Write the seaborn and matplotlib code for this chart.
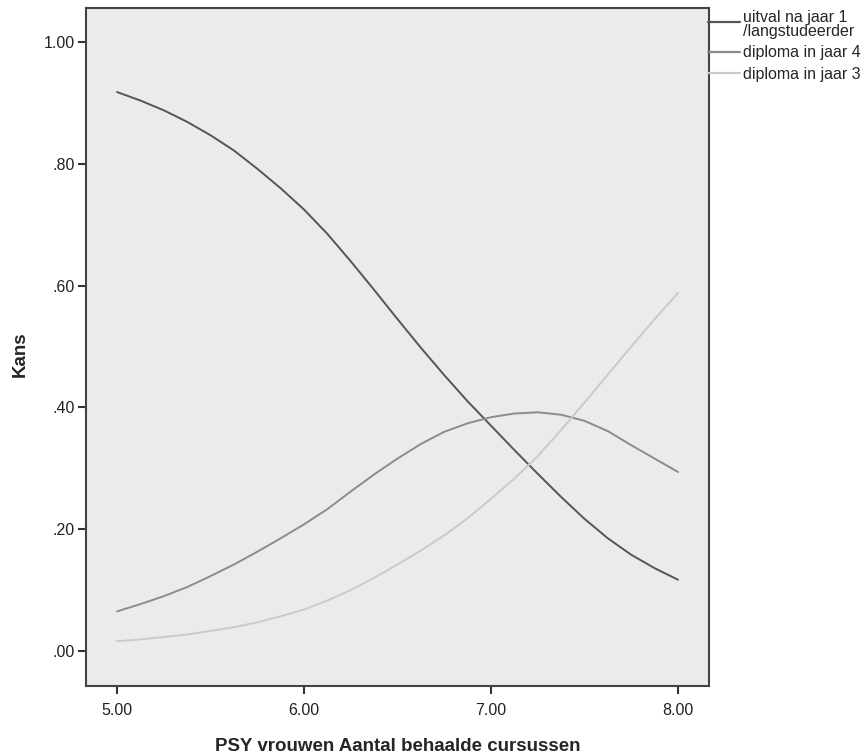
import numpy as np
import pandas as pd
import matplotlib
matplotlib.use("Agg")
import matplotlib.pyplot as plt
from matplotlib.legend_handler import HandlerLine2D
import seaborn as sns

x_vals = [5.0, 5.125, 5.25, 5.375, 5.5, 5.625, 5.75, 5.875, 6.0, 6.125, 6.25, 6.375, 6.5,
          6.625, 6.75, 6.875, 7.0, 7.125, 7.25, 7.375, 7.5, 7.625, 7.75, 7.875, 8.0]
uitval = [0.918, 0.904, 0.888, 0.869, 0.847, 0.822, 0.792, 0.760, 0.725, 0.685, 0.640, 0.593, 0.545,
          0.498, 0.453, 0.410, 0.370, 0.330, 0.291, 0.253, 0.217, 0.185, 0.158, 0.136, 0.117]
diploma4 = [0.065, 0.077, 0.090, 0.105, 0.123, 0.142, 0.163, 0.185, 0.208, 0.233, 0.262, 0.290, 0.316,
            0.340, 0.360, 0.374, 0.384, 0.390, 0.392, 0.388, 0.378, 0.361, 0.338, 0.316, 0.294]
diploma3 = [0.016, 0.019, 0.023, 0.027, 0.033, 0.039, 0.047, 0.057, 0.068, 0.083, 0.100, 0.120, 0.142,
            0.165, 0.190, 0.218, 0.250, 0.283, 0.320, 0.363, 0.408, 0.454, 0.500, 0.545, 0.588]
labels = ["uitval na jaar 1\n/langstudeerder", "diploma in jaar 4", "diploma in jaar 3"]
y_ticks = [0.0, 0.2, 0.4, 0.6, 0.8, 1.0]
y_ticklabels = [".00", ".20", ".40", ".60", ".80", "1.00"]
x_ticks = [5.0, 6.0, 7.0, 8.0]
x_ticklabels = ["5.00", "6.00", "7.00", "8.00"]

df = pd.DataFrame({
    "x": x_vals * 3,
    "y": uitval + diploma4 + diploma3,
    "serie": [labels[0]] * len(x_vals) + [labels[1]] * len(x_vals) + [labels[2]] * len(x_vals),
})

sns.set_style("white")
plt.rcParams["font.family"] = ["Liberation Sans", "DejaVu Sans"]

fig = plt.figure(figsize=(8.67, 7.55), dpi=100)
ax = fig.add_axes([0.0992, 0.0914, 0.7186, 0.898])
ax.set_facecolor("#ebebeb")

palette = {labels[0]: "#555555", labels[1]: "#8c8c8c", labels[2]: "#cacaca"}
sns.lineplot(data=df, x="x", y="y", hue="serie", palette=palette, linewidth=1.4, ax=ax,
             hue_order=labels)

ax.set_xlim(4.834, 8.166)
ax.set_ylim(-0.0575, 1.056)
ax.set_xticks(x_ticks)
ax.set_xticklabels(x_ticklabels)
ax.set_yticks(y_ticks)
ax.set_yticklabels(y_ticklabels)
ax.tick_params(axis="both", direction="out", length=6, width=1.5, color="#333333",
               labelsize=11.5, labelcolor="#222222", bottom=True, left=True)
ax.tick_params(axis="y", pad=2)
ax.tick_params(axis="x", pad=6)
for s in ax.spines.values():
    s.set_color("#444444")
    s.set_linewidth(1.5)

ax.set_xlabel("PSY vrouwen Aantal behaalde cursussen", fontsize=13.5, fontweight="bold")
ax.set_ylabel("Kans", fontsize=13.5, fontweight="bold")
ax.xaxis.set_label_coords(0.5, -0.077)
ax.yaxis.set_label_coords(-0.092, 0.49)


class TopAlignedHandler(HandlerLine2D):
    def __init__(self, shift=0.0, **kw):
        super().__init__(**kw)
        self.shift = shift

    def create_artists(self, legend, orig_handle, xdescent, ydescent, width, height, fontsize, trans):
        arts = super().create_artists(legend, orig_handle, xdescent, ydescent, width, height, fontsize, trans)
        for a in arts:
            yd = np.asarray(a.get_ydata(), float)
            a.set_ydata(yd + height * self.shift)
        return arts


handles, hl = ax.get_legend_handles_labels()
leg = ax.legend(handles, hl, loc="upper left", bbox_to_anchor=(0.999, 0.997), frameon=False,
                fontsize=11.5, handlelength=2.0, handletextpad=0.15, labelspacing=0.4,
                borderaxespad=0, borderpad=0,
                handler_map={handles[0]: TopAlignedHandler(shift=0.22)})
for t in leg.get_texts():
    t.set_linespacing(0.9)
for h in leg.get_lines():
    h.set_linewidth(1.6)

fig.savefig("out.png", dpi=100)
